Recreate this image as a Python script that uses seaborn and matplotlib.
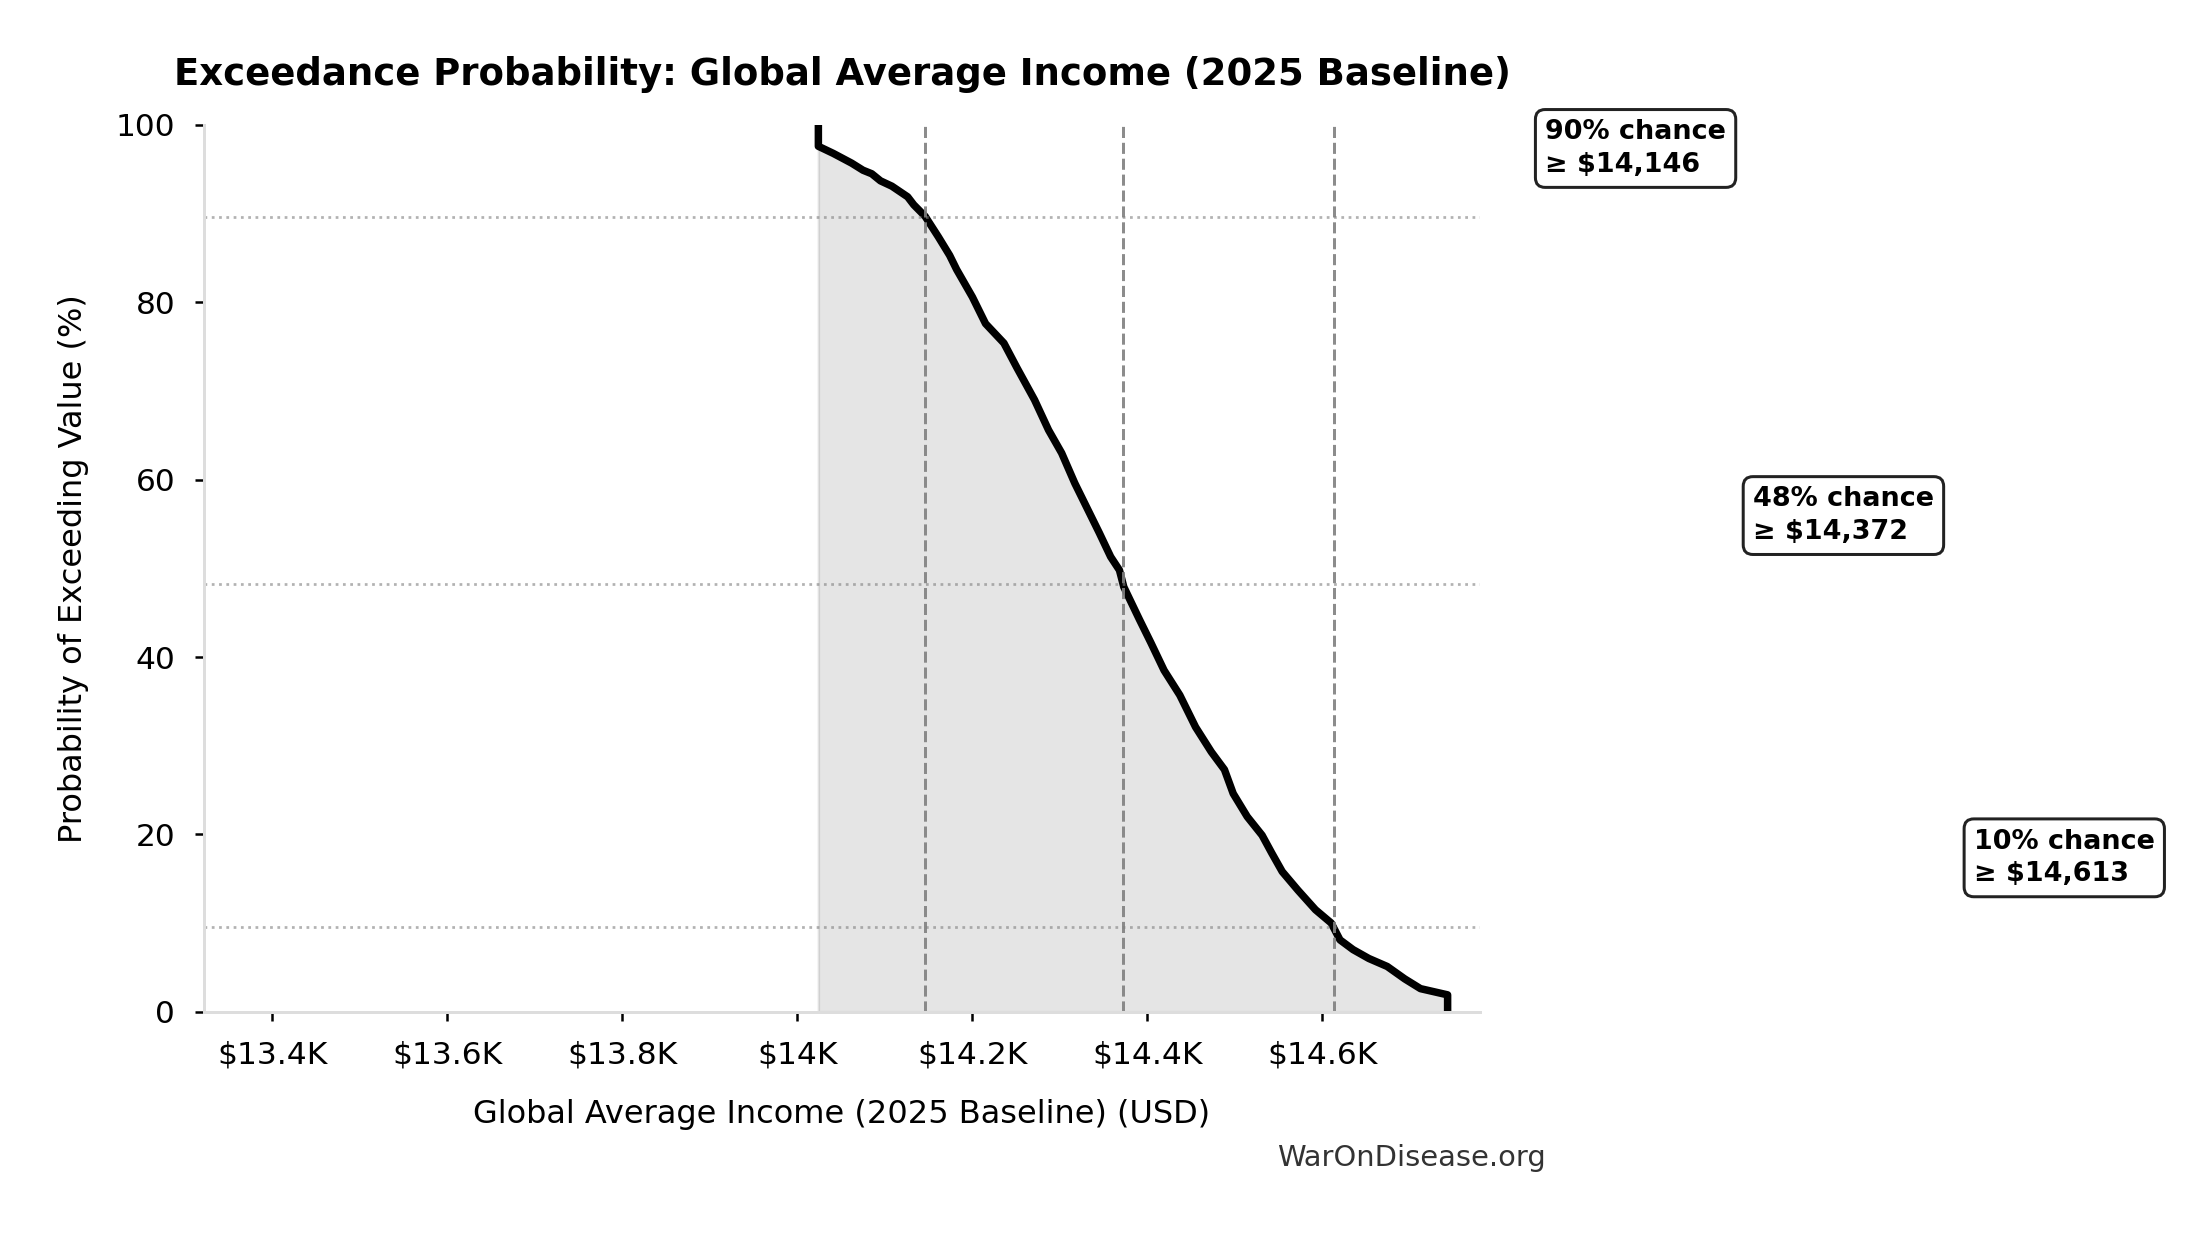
import matplotlib
matplotlib.use("Agg")
import matplotlib.pyplot as plt
import seaborn as sns
import pandas as pd
from matplotlib.ticker import FuncFormatter

# ---- data ----
income = [14024, 14024, 14041, 14062, 14075, 14085, 14095, 14108, 14126, 14133, 14146,
          14161, 14174, 14182, 14200, 14215, 14236, 14251, 14271, 14287, 14302, 14317,
          14333, 14345, 14358, 14368, 14373, 14391, 14404, 14419, 14437, 14455, 14473,
          14488, 14498, 14514, 14531, 14542, 14554, 14572, 14592, 14610, 14620, 14635,
          14653, 14674, 14694, 14712, 14743, 14743]
exceed_pct = [100, 97.6, 96.8, 95.7, 94.9, 94.5, 93.7, 93.1, 91.9, 91.0, 89.7,
              87.4, 85.3, 83.7, 80.6, 77.6, 75.4, 72.6, 69.0, 65.6, 63.0, 59.6,
              56.4, 54.0, 51.3, 49.8, 47.9, 44.2, 41.6, 38.5, 35.7, 32.1, 29.3,
              27.3, 24.6, 22.0, 19.9, 17.9, 15.8, 13.7, 11.5, 10.0, 8.1, 7.0,
              6.0, 5.1, 3.7, 2.6, 1.9, 0.0]

marker_values = [14146, 14372, 14613]
marker_probs = [89.6, 48.2, 9.6]
marker_labels = ["90% chance\n≥ $14,146", "48% chance\n≥ $14,372", "10% chance\n≥ $14,613"]
marker_dx_pt = [248, 252, 256]

x_ticks = [13400, 13600, 13800, 14000, 14200, 14400, 14600]
y_ticks = [0, 20, 40, 60, 80, 100]

title = "Exceedance Probability: Global Average Income (2025 Baseline)"
xlabel = "Global Average Income (2025 Baseline) (USD)"
ylabel = "Probability of Exceeding Value (%)"
watermark = "WarOnDisease.org"

# ---- plotting ----
sns.set_style("white")
plt.rcParams['font.family'] = ['DejaVu Sans']
plt.rcParams['text.color'] = 'black'
plt.rcParams['axes.labelcolor'] = 'black'
plt.rcParams['xtick.color'] = 'black'
plt.rcParams['ytick.color'] = 'black'

DPI = 180
fig = plt.figure(figsize=(2210 / DPI, 1233 / DPI), dpi=DPI)
ax = fig.add_axes([204 / 2210, 1 - 1011.7 / 1233, (1480 - 204) / 2210, (1011.7 - 125) / 1233])

df = pd.DataFrame({"income": income, "pct": exceed_pct})
ax.fill_between(df["income"], df["pct"], color="gray", alpha=0.2, linewidth=1)
sns.lineplot(data=df, x="income", y="pct", sort=False, estimator=None,
             color="black", linewidth=3, ax=ax)

for v, p, lab, dx in zip(marker_values, marker_probs, marker_labels, marker_dx_pt):
    ax.axvline(v, color="gray", linestyle="--", linewidth=1.2, alpha=0.9)
    ax.axhline(p, color="gray", linestyle=":", linewidth=1.1, alpha=0.6)
    ax.annotate(lab, xy=(v, p), xytext=(dx, 27.5), textcoords="offset points",
                ha="left", va="center", fontsize=10.8, fontweight="bold",
                linespacing=1.32, color="black", annotation_clip=False,
                bbox=dict(boxstyle="round,pad=0.36", facecolor="white",
                          edgecolor="#222222", linewidth=1.2))

ax.set_xlim(13322, 14780)
ax.set_ylim(0, 100)
ax.set_xticks(x_ticks)
ax.set_yticks(y_ticks)
ax.xaxis.set_major_formatter(FuncFormatter(lambda x, _: f"${x/1000:g}K"))
ax.tick_params(axis="both", which="major", labelsize=12.5, length=3.5, width=1,
               pad=8, color="black", bottom=True, left=True)

for s in ["top", "right"]:
    ax.spines[s].set_visible(False)
for s in ["left", "bottom"]:
    ax.spines[s].set_color("#dddddd")
    ax.spines[s].set_linewidth(1.2)

ax.set_title(title, fontsize=14.8, fontweight="bold", pad=16, color="black")
ax.set_xlabel(xlabel, fontsize=12.8, labelpad=12)
ax.set_ylabel(ylabel, fontsize=12.8, labelpad=10.8)

fig.text(1546 / 2210, 1 - 1158 / 1233, watermark, ha="right", va="center",
         fontsize=11.6, color="#333333")

fig.savefig("out.png", dpi=DPI)
